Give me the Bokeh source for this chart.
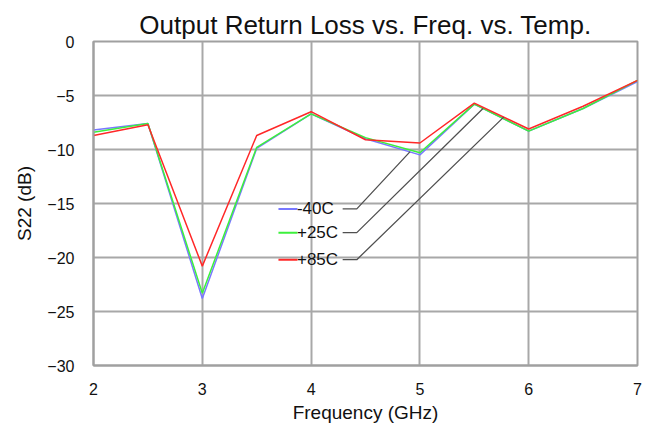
from bokeh.plotting import figure
from bokeh.models import Range1d, FixedTicker
from bokeh.core.properties import value
from bokeh.embed import file_html
from bokeh.resources import INLINE

freq = [2, 2.5, 3, 3.5, 4, 4.5, 5, 5.5, 6, 6.5, 7]
s22_m40 = [-8.2, -7.6, -23.8, -9.9, -6.7, -9.0, -10.5, -5.8, -8.3, -6.2, -3.7]
s22_p25 = [-8.4, -7.6, -23.3, -9.8, -6.7, -8.9, -10.3, -5.8, -8.3, -6.2, -3.6]
s22_p85 = [-8.7, -7.7, -20.8, -8.7, -6.5, -9.1, -9.4, -5.7, -8.1, -6.0, -3.6]
series_names = ["-40C", "+25C", "+85C"]
series_colors = ["#7878ff", "#3cf03c", "#ff2828"]
x_ticks = [2, 3, 4, 5, 6, 7]
y_ticks = [0, -5, -10, -15, -20, -25, -30]

FONT = "Liberation Sans"

p = figure(width=648, height=425, output_backend="svg", toolbar_location=None,
           x_range=Range1d(2, 7), y_range=Range1d(-30, 0),
           min_border_left=93, min_border_right=11, min_border_top=41, min_border_bottom=58,
           title="Output Return Loss vs. Freq. vs. Temp.")
p.title.align = "center"
p.title.text_font = FONT
p.title.text_font_size = "26px"
p.title.text_font_style = "normal"
p.title.text_color = "#111111"
p.title.offset = 0
p.title.standoff = 3

p.background_fill_color = "white"
p.border_fill_color = "white"
p.outline_line_color = "#a0a0a0"
p.outline_line_width = 2

for ax in (p.xaxis[0], p.yaxis[0]):
    ax.major_tick_line_color = None
    ax.minor_tick_line_color = None
    ax.axis_line_color = "#a0a0a0"
    ax.axis_line_width = 2
    ax.major_label_text_font = FONT
    ax.major_label_text_font_size = "16px"
    ax.major_label_text_color = "#111111"
    ax.axis_label_text_font = FONT
    ax.axis_label_text_font_size = "19px"
    ax.axis_label_text_font_style = "normal"
    ax.axis_label_text_color = "#111111"

p.xaxis.ticker = FixedTicker(ticks=x_ticks)
p.yaxis.ticker = FixedTicker(ticks=y_ticks)
p.xaxis.axis_label = "Frequency (GHz)"
p.yaxis.axis_label = "S22 (dB)"
p.xaxis.major_label_standoff = 11
p.yaxis.major_label_standoff = 13
p.xaxis.axis_label_standoff = 4
p.yaxis.axis_label_standoff = 9

p.xgrid.ticker = FixedTicker(ticks=x_ticks)
p.ygrid.ticker = FixedTicker(ticks=y_ticks)
p.grid.grid_line_color = "#a8a8a8"
p.grid.grid_line_width = 2

for vals, col in zip([s22_m40, s22_p25, s22_p85], series_colors):
    p.line(freq, vals, line_color=col, line_width=1.5)

# legend with leader lines
leg_y = [-15.5, -17.7, -20.2]
leader_end_x = [4.91, 5.58, 5.77]
leader_end_y = [-10.2, -6.2, -7.0]
for i, (name, col) in enumerate(zip(series_names, series_colors)):
    y = leg_y[i]
    p.line([3.70, 3.875], [y, y], line_color=col, line_width=2)
    p.text(x=[3.87], y=[y], text=[name], text_font=value(FONT), text_font_size="17px",
           text_baseline="middle", text_align="left", text_color="#111111")
    p.line([4.29, 4.42, leader_end_x[i]], [y, y, leader_end_y[i]],
           line_color="#505050", line_width=1.3)

open("out.html", "w").write(file_html(p, INLINE))
